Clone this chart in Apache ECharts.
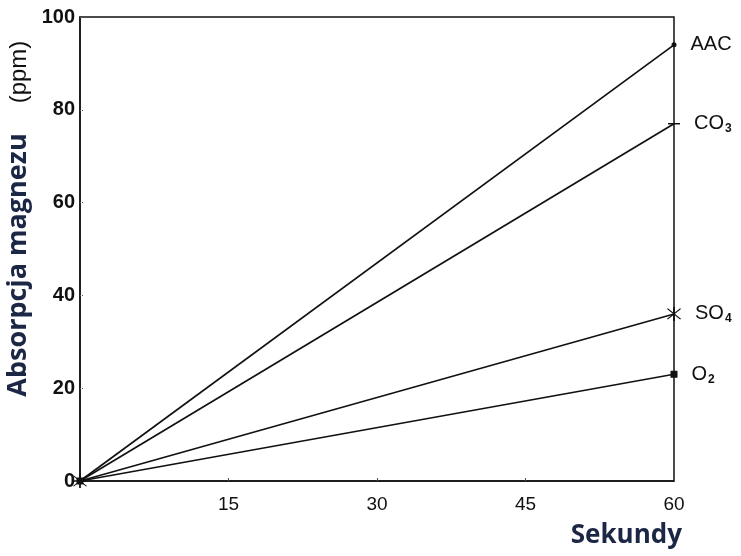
<!DOCTYPE html>
<html><head><meta charset="utf-8">
<script src="https://cdn.jsdelivr.net/npm/echarts@6/dist/echarts.min.js"></script>
<style>html,body{margin:0;padding:0;background:#fff}#c{width:741px;height:556px}</style>
</head><body><div id="c"></div>
<script>
const seconds = [0, 60];
const AAC = [0, 94];
const CO3 = [0, 77];
const SO4 = [0, 36];
const O2 = [0, 23];
const xTicks = [0, 15, 30, 45, 60];
const yTicks = [0, 20, 40, 60, 80, 100];

const chart = echarts.init(document.getElementById('c'));
const asterisk = 'path://M-1,-10L1,-10L1,10L-1,10Z M-8,-7L-7,-8L8,7L7,8Z M7,-8L8,-7L-7,8L-8,7Z';
const rich = {
  m: {fontFamily: 'Liberation Sans', fontSize: 20, color: '#111'},
  s: {fontFamily: 'Liberation Sans', fontSize: 12, fontWeight: 'bold', color: '#111', padding: [10, 0, 0, 1]}
};
function mk(name, vals, labelText, symbol, size) {
  return {
    type: 'line', name: name,
    data: seconds.map((s, i) => [s, vals[i]]),
    lineStyle: {color: '#111', width: 1.7},
    itemStyle: {color: '#111'},
    symbol: symbol, symbolSize: size, showAllSymbol: true,
    label: {show: true, position: 'right', distance: 14,
      formatter: p => p.dataIndex === 1 ? labelText : '', rich: rich},
    silent: true, animation: false
  };
}
chart.setOption({
  animation: false,
  grid: {left: 80, right: 67, top: 17, bottom: 75, show: true, borderColor: '#111', borderWidth: 1.5},
  xAxis: {type: 'value', min: 0, max: 60, interval: 15,
    axisLine: {lineStyle: {color: '#111', width: 1.5}},
    axisTick: {show: true, inside: true, length: 3, lineStyle: {color: '#555'}},
    splitLine: {show: false},
    axisLabel: {margin: 14, fontFamily: 'Liberation Sans', fontSize: 19, color: '#111',
      formatter: v => v === 0 ? '' : String(v)}
  },
  yAxis: {type: 'value', min: 0, max: 100, interval: 20,
    axisLine: {lineStyle: {color: '#111', width: 1.5}},
    axisTick: {show: true, inside: true, length: 4, lineStyle: {color: '#555', type: 'dotted'}},
    splitLine: {show: false},
    axisLabel: {margin: 5, fontFamily: 'Liberation Sans', fontSize: 20, fontWeight: 'bold', color: '#111'}
  },
  graphic: [
    {type: 'text', x: 18, y: 265, rotation: Math.PI / 2,
      style: {text: 'Absorpcja magnezu', fontFamily: 'Open Sans', fontSize: 27, fontWeight: 'bold',
        fill: '#1c2745', align: 'center', verticalAlign: 'middle'}},
    {type: 'text', x: 19, y: 72, rotation: Math.PI / 2,
      style: {text: '(ppm)', fontFamily: 'Liberation Sans', fontSize: 24,
        fill: '#111', align: 'center', verticalAlign: 'middle'}},
    {type: 'text', x: 682, y: 536,
      style: {text: 'Sekundy', fontFamily: 'Open Sans', fontSize: 26, fontWeight: 'bold',
        fill: '#1c2745', align: 'right', verticalAlign: 'middle'}}
  ],
  series: [
    mk('AAC', AAC, '{m|AAC}', 'circle', 5),
    mk('CO3', CO3, '{m|CO}{s|3}', 'rect', [12, 1.5]),
    mk('SO4', SO4, '{m|SO}{s|4}', asterisk, 14),
    mk('O2', O2, '{m|O}{s|2}', 'rect', 7)
  ]
});
</script></body></html>
